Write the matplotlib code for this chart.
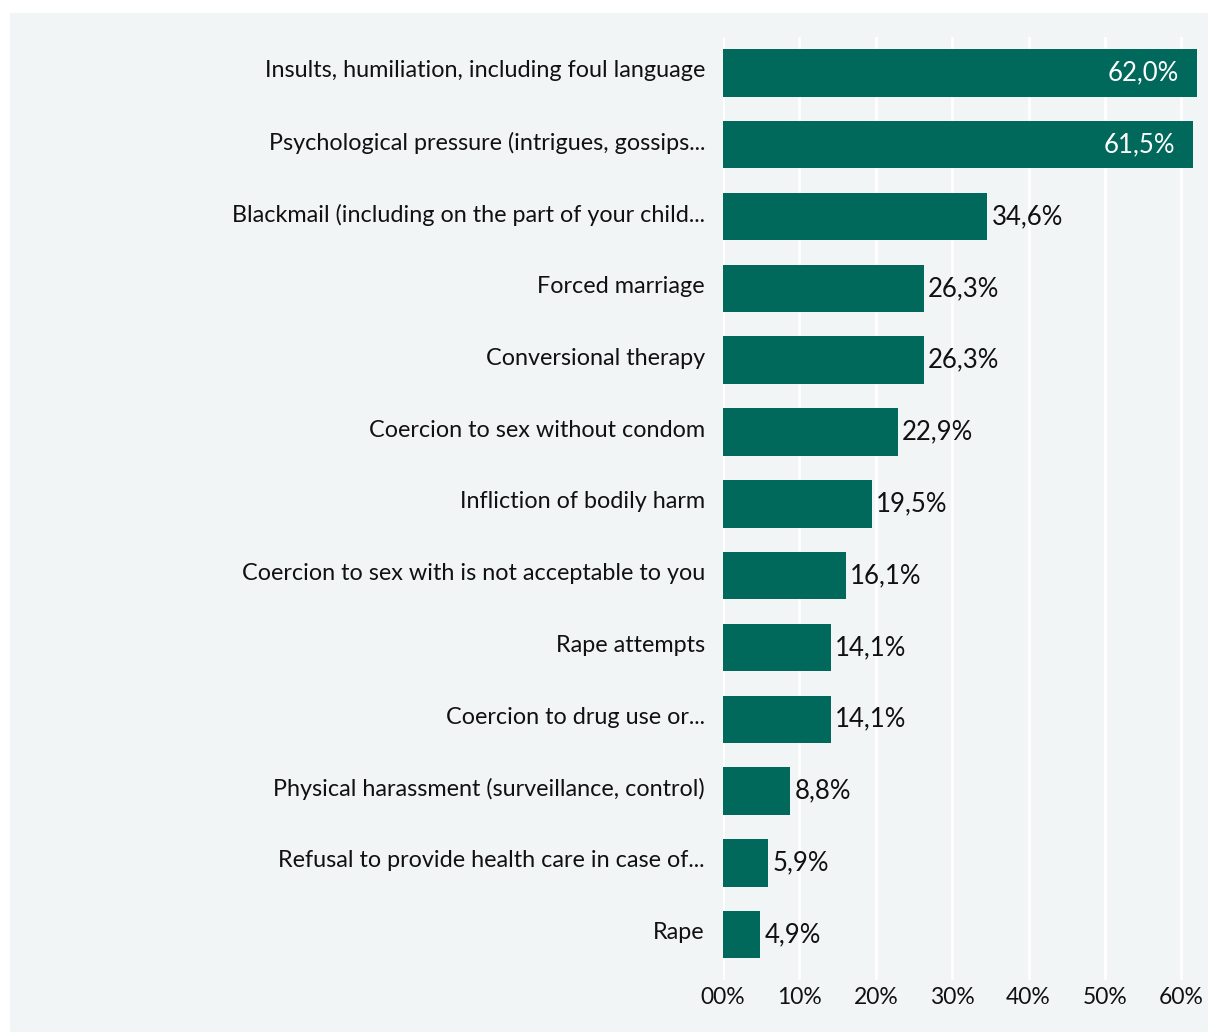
import matplotlib.pyplot as plt
from matplotlib.patches import Rectangle
from matplotlib.transforms import ScaledTranslation

# forms of violence and share of respondents who faced them
categorias = [
    "Insults, humiliation, including foul language",
    "Psychological pressure (intrigues, gossips...",
    "Blackmail (including on the part of your child...",
    "Forced marriage",
    "Conversional therapy",
    "Coercion to sex without condom",
    "Infliction of bodily harm",
    "Coercion to sex with is not acceptable to you",
    "Rape attempts",
    "Coercion to drug use or...",
    "Physical harassment (surveillance, control)",
    "Refusal to provide health care in case of...",
    "Rape",
]
valores = [62.0, 61.5, 34.6, 26.3, 26.3, 22.9, 19.5, 16.1, 14.1, 14.1, 8.8, 5.9, 4.9]
ticks_x = [0, 10, 20, 30, 40, 50, 60]
rotulos_x = ["00%", "10%", "20%", "30%", "40%", "50%", "60%"]

cor_barra = "#01695b"
cor_fundo = "#f2f5f6"

plt.rcParams['font.family'] = ['Lato', 'DejaVu Sans']

fig = plt.figure(figsize=(12.08, 10.32), dpi=100)
fig.patch.set_facecolor("white")
# painel cinza claro atras do grafico
fig.patches.append(Rectangle((10 / 1208, 0), 1, 1 - 13 / 1032,
                             transform=fig.transFigure, facecolor=cor_fundo,
                             edgecolor="none", zorder=-1))

ax = fig.add_axes([723 / 1208, 1 - 980 / 1032, 1 - 723 / 1208, (980 - 37) / 1032])
ax.set_facecolor("none")
ax.set_zorder(2)

pos = list(range(len(categorias)))
ax.barh(pos, valores, height=0.66, color=cor_barra, zorder=3)

for y, v in zip(pos, valores):
    texto = f"{v:.1f}%".replace(".", ",")
    if v > 50:
        ax.annotate(texto, (v, y), xytext=(-13, 0), textcoords="offset points",
                    ha="right", va="center", color="white", fontsize=18.5, zorder=4)
    else:
        ax.annotate(texto, (v, y), xytext=(3, 0), textcoords="offset points",
                    ha="left", va="center", color="#111111", fontsize=18.5, zorder=4)

ax.set_yticks(pos)
ax.set_yticklabels(categorias, fontsize=16.8, color="#111111")
ax.set_xticks(ticks_x)
ax.set_xticklabels(rotulos_x, fontsize=16.5, color="#111111")
ax.tick_params(axis="y", length=0, pad=13)
ax.tick_params(axis="x", length=0, pad=5)

# rotulos das categorias um pouco acima do centro da barra
subir = ScaledTranslation(0, 4 / 100, fig.dpi_scale_trans)
for rot in ax.get_yticklabels():
    rot.set_transform(rot.get_transform() + subir)

ax.set_xlim(0, 63.5)
ax.set_ylim(12.63, -0.5)

ax.grid(axis="x", color="white", linewidth=2, zorder=1)
ax.set_axisbelow(True)
for lado in ax.spines.values():
    lado.set_visible(False)

plt.savefig("out.png", dpi=100)
